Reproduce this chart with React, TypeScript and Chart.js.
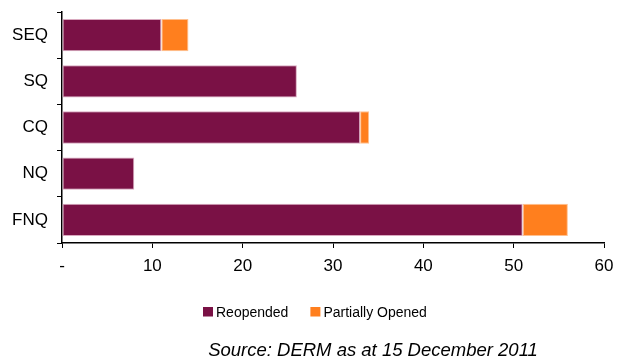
import React, { useEffect, useRef } from "react";
import { Chart, registerables } from "chart.js";

Chart.register(...registerables);

const categories = ["SEQ", "SQ", "CQ", "NQ", "FNQ"];
const reopened = [11, 26, 33, 8, 51];
const partiallyOpened = [3, 0, 1, 0, 5];
const xTicks = [0, 10, 20, 30, 40, 50, 60];
const seriesNames = ["Reopended", "Partially Opened"];
const seriesColors = ["#7A1145", "#FF7F1E"];
const sourceText = "Source: DERM as at 15 December 2011";

const FONT = "'Liberation Sans', Arial, sans-serif";

const footerPlugin = {
  id: "footerLegend",
  afterDraw(chart: any) {
    const ctx = chart.ctx as CanvasRenderingContext2D;
    ctx.save();
    ctx.font = `14px ${FONT}`;
    ctx.textBaseline = "middle";
    ctx.textAlign = "left";
    let x = 203;
    const yMid = 313;
    chart.data.datasets.forEach((ds: any) => {
      ctx.fillStyle = ds.backgroundColor;
      ctx.fillRect(x, 307, 10, 9.5);
      x += 13;
      ctx.fillStyle = "#000";
      ctx.fillText(ds.label, x, yMid);
      x += ctx.measureText(ds.label).width + 22;
    });
    ctx.font = `italic 18.5px ${FONT}`;
    ctx.textAlign = "center";
    ctx.fillStyle = "#000";
    ctx.fillText(sourceText, 373, 351);
    ctx.restore();
  },
};

export default function App() {
  const ref = useRef<HTMLCanvasElement | null>(null);
  useEffect(() => {
    if (!ref.current) return;
    const chart = new Chart(ref.current, {
      type: "bar",
      data: {
        labels: categories,
        datasets: [
          {
            label: seriesNames[0],
            data: reopened,
            backgroundColor: seriesColors[0],
            borderColor: "#d9a9bf",
            borderWidth: 1,
            borderSkipped: false,
          },
          {
            label: seriesNames[1],
            data: partiallyOpened,
            backgroundColor: seriesColors[1],
            borderColor: "#ffc08f",
            borderWidth: 1,
            borderSkipped: false,
          },
        ],
      },
      plugins: [footerPlugin],
      options: {
        indexAxis: "y",
        animation: false,
        responsive: false,
        maintainAspectRatio: false,
        devicePixelRatio: 1,
        layout: { padding: { left: 8, right: 14, top: 12, bottom: 77 } },
        datasets: { bar: { barPercentage: 0.7, categoryPercentage: 1 } },
        scales: {
          x: {
            stacked: true,
            min: 0,
            max: 60,
            afterBuildTicks: (scale: any) => {
              scale.ticks = xTicks.map((v) => ({ value: v }));
            },
            afterFit: (scale: any) => {
              scale.height = 40;
              scale.paddingLeft = 0;
              scale.paddingRight = 0;
              scale.paddingTop = 0;
              scale.paddingBottom = 0;
            },
            ticks: {
              color: "#000",
              font: { family: FONT, size: 17 },
              padding: 8,
              maxRotation: 0,
              callback: (v: any) => (Number(v) === 0 ? "-" : String(v)),
            },
            grid: {
              drawOnChartArea: false,
              drawTicks: true,
              tickLength: 5,
              color: "#000",
            },
            border: { display: true, color: "#000", width: 1.5 },
          },
          y: {
            stacked: true,
            afterFit: (scale: any) => {
              scale.width = 54;
              scale.paddingTop = 0;
              scale.paddingBottom = 0;
              scale.paddingLeft = 0;
              scale.paddingRight = 0;
            },
            ticks: {
              color: "#000",
              font: { family: FONT, size: 17 },
              padding: 9,
            },
            grid: {
              drawOnChartArea: false,
              drawTicks: true,
              tickLength: 5,
              color: "#000",
              offset: true,
            },
            border: { display: true, color: "#000", width: 1.5 },
          },
        },
        plugins: {
          legend: { display: false },
          title: { display: false },
          tooltip: { enabled: false },
        },
      },
    });
    return () => chart.destroy();
  }, []);
  return (
    <div style={{ position: "fixed", left: 0, top: 0, width: 618, height: 360, background: "#fff" }}>
      <canvas ref={ref} width={618} height={360} style={{ width: 618, height: 360 }} />
    </div>
  );
}
